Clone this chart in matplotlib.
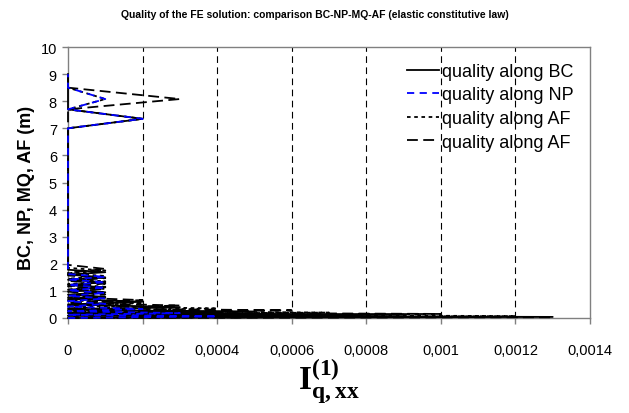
import matplotlib
matplotlib.use("Agg")
import matplotlib.pyplot as plt
from matplotlib.ticker import FixedLocator, FixedFormatter

plt.rcParams['font.family'] = ['Liberation Sans', 'DejaVu Sans']
plt.rcParams['mathtext.fontset'] = 'custom'
plt.rcParams['mathtext.rm'] = 'Liberation Serif'
plt.rcParams['mathtext.bf'] = 'Liberation Serif:bold'

# ---- data (x = quality value, y = position along line in m) ----
bc_y = [0.00, 0.04, 0.08, 0.13, 0.18, 0.24, 0.30, 0.40, 0.50, 0.60, 0.70, 0.78, 0.86, 0.95,
        1.04, 1.13, 1.22, 1.32, 1.41, 1.50, 1.60, 1.69, 1.78, 7.00, 7.35, 7.70, 9.00]
bc_x = [0, 0.0013, 0, 0.0009, 0, 0.0005, 0, 0.0003, 0, 0.0002, 0, 0.0001, 0, 0.0001,
        0, 0.0001, 0, 0.0001, 0, 0.0001, 0, 0.0001, 0, 0, 0.0002, 0, 0]

np_y = [0.00, 0.06, 0.12, 0.18, 0.25, 0.33, 0.42, 0.52, 0.62, 0.72, 0.82, 0.92, 1.02,
        1.12, 1.22, 1.32, 1.42, 1.52, 1.62, 1.72, 7.00, 7.35, 7.70, 8.08, 8.50, 9.00]
np_x = [0, 0.0004, 0, 0.0003, 0, 0.0002, 0, 0.0001, 0, 0.0001, 0, 0.0001, 0,
        0.0001, 0, 0.0001, 0, 0.0001, 0, 0, 0, 0.0002, 0, 0.0001, 0, 0]

af1_y = [0.00, 0.07, 0.14, 0.20, 0.27, 0.35, 0.45, 0.55, 0.65, 0.75, 0.85, 0.95, 1.05, 1.15,
         1.25, 1.35, 1.45, 1.55, 1.65, 1.75, 1.85, 7.00, 7.35, 7.70, 8.08, 8.50, 9.00]
af1_x = [0, 0.0012, 0, 0.0007, 0, 0.0004, 0, 0.0002, 0, 0.0001, 0, 0.0001, 0, 0.0001,
         0, 0.0001, 0, 0.0001, 0, 0.0001, 0, 0, 0.0002, 0, 0.0001, 0, 0]

af2_y = [0.00, 0.03, 0.09, 0.15, 0.21, 0.28, 0.36, 0.46, 0.56, 0.66, 0.76, 0.87, 0.97,
         1.07, 1.17, 1.27, 1.37, 1.47, 1.57, 1.67, 1.81, 1.96, 7.70, 8.08, 8.50, 9.00]
af2_x = [0, 0.0013, 0, 0.0010, 0, 0.0006, 0, 0.0003, 0, 0.0002, 0, 0.0001, 0,
         0.0001, 0, 0.0001, 0, 0.0001, 0, 0, 0.0001, 0, 0, 0.0003, 0, 0]

labels = ["quality along BC", "quality along NP", "quality along AF", "quality along AF"]
x_ticks = [0, 0.0002, 0.0004, 0.0006, 0.0008, 0.001, 0.0012, 0.0014]
x_tick_labels = ["0", "0,0002", "0,0004", "0,0006", "0,0008", "0,001", "0,0012", "0,0014"]
y_ticks = list(range(0, 11))

fig = plt.figure(figsize=(6.29, 4.14), dpi=100)
ax = fig.add_axes([68/629, 1-319/414, 522/629, 271/414])

ax.plot(bc_x, bc_y, color='black', lw=1.3, ls='-', label=labels[0], zorder=3, clip_on=False)
ax.plot(af1_x, af1_y, color='black', lw=1.3, ls=(0, (2, 2)), label=labels[2], zorder=3, clip_on=False)
ax.plot(af2_x, af2_y, color='black', lw=1.3, ls=(0, (6, 3)), label=labels[3], zorder=3, clip_on=False)
ax.plot(np_x, np_y, color='#0000ff', lw=1.3, ls=(0, (4, 3)), label=labels[1], zorder=4, clip_on=False)

ax.set_xlim(0, 0.0014)
ax.set_ylim(0, 10)
ax.xaxis.set_major_locator(FixedLocator(x_ticks))
ax.xaxis.set_major_formatter(FixedFormatter(x_tick_labels))
ax.set_yticks(y_ticks)

for xv in x_ticks[1:-1]:
    ax.axvline(xv, color='black', lw=0.8, ls=(0, (6, 4)), zorder=1)

for s in ['top', 'right', 'left', 'bottom']:
    ax.spines[s].set_color('#808080')
    ax.spines[s].set_linewidth(1.0)

ax.tick_params(axis='both', colors='#808080', labelcolor='black', labelsize=10.5,
               direction='out', length=4, width=1)
ax.tick_params(axis='x', pad=14)
ax.tick_params(axis='y', pad=4)

handles, labs = ax.get_legend_handles_labels()
order = [0, 3, 1, 2]
ax.legend([handles[i] for i in order], [labs[i] for i in order], loc='upper left',
          frameon=False, fontsize=13, handlelength=1.75, handletextpad=0.2,
          labelspacing=0.36, borderpad=0, borderaxespad=0,
          bbox_to_anchor=(407/629, 1-64/414), bbox_transform=fig.transFigure)

ax.set_ylabel("BC, NP, MQ, AF (m)", fontsize=13, fontweight='bold', labelpad=4)
ax.yaxis.set_label_coords(-0.064, 0.485)
fig.text(0.5, 1-15/414, "Quality of the FE solution: comparison BC-NP-MQ-AF (elastic constitutive law)",
         ha='center', va='center', fontsize=7.5, fontweight='bold')
fig.text(329/629, 1-382/414, r'$\mathbf{I}^{\mathbf{(1)}}_{\mathbf{q,xx}}$',
         ha='center', va='center', fontsize=24)

fig.savefig("out.png", dpi=100)
